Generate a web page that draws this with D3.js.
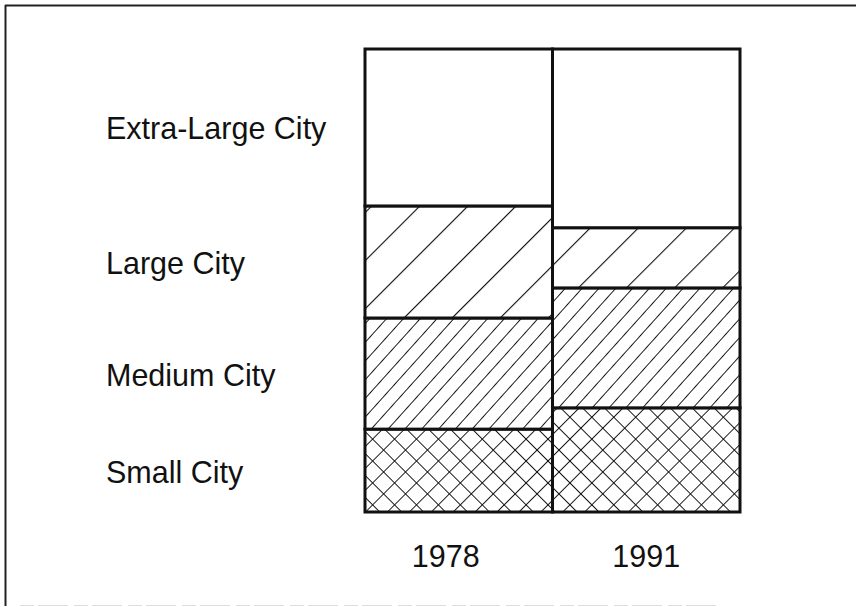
<!DOCTYPE html>
<html>
<head>
<meta charset="utf-8">
<script src="https://cdn.jsdelivr.net/npm/d3@7"></script>
<style>
  html, body { margin: 0; padding: 0; background: #fff; }
  svg { display: block; }
  text { font-family: "Liberation Sans", Arial, sans-serif; fill: #111; }
</style>
</head>
<body>
<svg id="chart" width="858" height="607"></svg>
<script>
// ---- data ----
const categories = ["Small City", "Medium City", "Large City", "Extra-Large City"];
const years = ["1978", "1991"];
const values1978 = [17.9, 24.0, 24.2, 33.9];
const values1991 = [22.5, 25.9, 13.0, 38.6];
const patternIds = ["cross", "dense", "sparse", "blank"];

// ---- setup ----
const W = 858, H = 607;
const svg = d3.select("#chart");
const defs = svg.append("defs");

function hatch(id, size, angle, width, cross) {
  const p = defs.append("pattern")
    .attr("id", id).attr("patternUnits", "userSpaceOnUse")
    .attr("width", size).attr("height", size)
    .attr("patternTransform", `rotate(${angle})`);
  p.append("rect").attr("width", size).attr("height", size).attr("fill", "#fff");
  p.append("line").attr("x1", 0).attr("y1", 0).attr("x2", 0).attr("y2", size)
    .attr("stroke", "#111").attr("stroke-width", width);
  if (cross) {
    p.append("line").attr("x1", 0).attr("y1", 0).attr("x2", size).attr("y2", 0)
      .attr("stroke", "#111").attr("stroke-width", width);
  }
}
hatch("sparse", 34, 45, 2.2, false);
hatch("dense", 12.5, 42, 1.9, false);
hatch("cross", 15.5, 45, 1.9, true);
defs.append("pattern").attr("id", "blank").attr("patternUnits", "userSpaceOnUse")
  .attr("width", 10).attr("height", 10)
  .append("rect").attr("width", 10).attr("height", 10).attr("fill", "#fff");

// frame
svg.append("rect").attr("width", W).attr("height", H).attr("fill", "#fff");
svg.append("line").attr("x1", 5).attr("y1", 5.5).attr("x2", 856).attr("y2", 5.5)
  .attr("stroke", "#222").attr("stroke-width", 2);
svg.append("line").attr("x1", 5.5).attr("y1", 5).attr("x2", 5.5).attr("y2", 606)
  .attr("stroke", "#222").attr("stroke-width", 2);
svg.append("line").attr("x1", 20).attr("y1", 605.5).attr("x2", 720).attr("y2", 605.5)
  .attr("stroke", "#ddd").attr("stroke-width", 1).attr("stroke-dasharray", "14 4 30 6");

// scales
const x = d3.scaleBand().domain(years).range([365, 740]).padding(0);
const y = d3.scaleLinear().domain([0, 100]).range([512, 49]);

const series = { "1978": values1978, "1991": values1991 };
const stackData = years.map(yr => {
  const o = { year: yr };
  categories.forEach((c, i) => o[c] = series[yr][i]);
  return o;
});
const stacked = d3.stack().keys(categories)(stackData);

const g = svg.append("g");
stacked.forEach((layer, li) => {
  g.selectAll(null).data(layer).enter().append("rect")
    .attr("x", d => x(d.data.year))
    .attr("y", d => y(d[1]))
    .attr("width", x.bandwidth())
    .attr("height", d => y(d[0]) - y(d[1]))
    .attr("fill", `url(#${patternIds[li]})`)
    .attr("stroke", "#111")
    .attr("stroke-width", 3);
});

// category labels aligned with 1978 segments
const first = stacked.map(layer => layer[0]);
svg.selectAll(".cat").data(categories).enter().append("text")
  .attr("class", "cat")
  .attr("x", 106)
  .attr("y", (d, i) => (y(first[i][0]) + y(first[i][1])) / 2 + 12)
  .attr("font-size", 30.5)
  .text(d => d);

// year axis labels
svg.selectAll(".yr").data(years).enter().append("text")
  .attr("class", "yr")
  .attr("x", (d, i) => x(d) + x.bandwidth() / 2 - (i === 0 ? 13 : 0))
  .attr("y", 567)
  .attr("text-anchor", "middle")
  .attr("font-size", 30.5)
  .text(d => d);
</script>
</body>
</html>
